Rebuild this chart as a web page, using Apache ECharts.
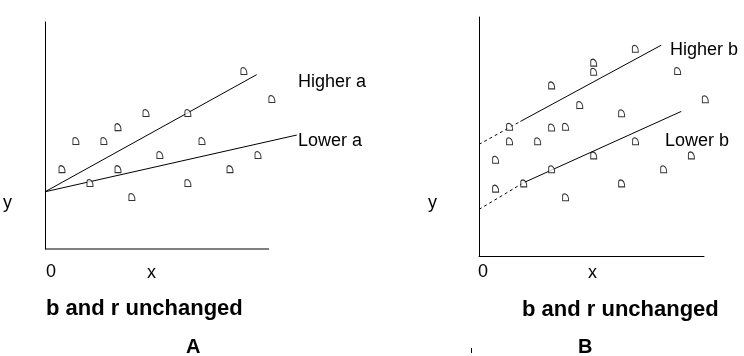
<!DOCTYPE html>
<html>
<head>
<meta charset="utf-8">
<script src="https://cdn.jsdelivr.net/npm/echarts@6/dist/echarts.min.js"></script>
<style>html,body{margin:0;padding:0;background:#fff;}#c{width:744px;height:356px;}</style>
</head>
<body>
<div id="c"></div>
<script>
// Panel A data (units 0-100 on each axis; axis drawn 0-100)
const aPointX = [88.8, 101.3, 63.8, 45.1, 32.6, 13.8, 26.3, 70.1, 51.3, 95.1, 7.6, 32.6, 82.6, 20.1, 63.8, 38.8];
const aPointY = [78.4, 66.1, 59.9, 59.9, 53.7, 47.6, 47.6, 47.6, 41.4, 41.4, 35.2, 35.2, 35.2, 29.1, 29.1, 22.9];
const aHigherX = [0, 94.5];
const aHigherY = [25.2, 76.8];
const aLowerX = [0, 112.4];
const aLowerY = [25.2, 50.2];
const aAxisX = [0, 100];
const aAxisY = [0, 0];

// Panel B data
const bPointX = [69.5, 51.0, 51.0, 88.3, 32.3, 100.6, 44.8, 63.4, 13.6, 32.3, 38.5, 13.6, 26.1, 69.6, 7.4, 51.0, 94.4, 32.3, 82.1, 7.4, 19.9, 63.4, 38.5];
const bPointY = [86.7, 80.9, 77.1, 77.4, 71.4, 65.6, 63.2, 59.7, 54.1, 53.8, 54.1, 48.0, 48.0, 48.0, 40.3, 42.1, 42.1, 36.3, 36.3, 28.2, 30.4, 30.4, 24.6];
const bHigherDashX = [0, 18.4];
const bHigherDashY = [46.7, 56.3];
const bHigherX = [18.4, 81.0];
const bHigherY = [56.3, 88.2];
const bLowerDashX = [0, 19.9];
const bLowerDashY = [19.5, 30.7];
const bLowerX = [19.9, 89.9];
const bLowerY = [30.7, 60.5];

const zip = (xs, ys) => xs.map((x, i) => [x, ys[i]]);
const FONT = '"Liberation Sans", Arial, sans-serif';
const markerPath = 'path://M0,10 L0,3 Q0,0 3,0 Q8,1 8,10 Z';

function axis(gi, max, showLine) {
  return {
    type: 'value', gridIndex: gi, min: 0, max: max,
    axisLine: { show: showLine, onZero: false, lineStyle: { color: '#000', width: 1 } },
    axisTick: { show: false }, axisLabel: { show: false }, splitLine: { show: false }
  };
}
function scatter(gi, xs, ys) {
  return {
    type: 'scatter', xAxisIndex: gi, yAxisIndex: gi, data: zip(xs, ys), clip: false,
    symbol: markerPath, symbolSize: [6, 7],
    itemStyle: { color: '#fff', borderColor: '#000', borderWidth: 1 },
    z: 3, silent: true
  };
}
function line(gi, xs, ys, dashed) {
  return {
    type: 'line', xAxisIndex: gi, yAxisIndex: gi, data: zip(xs, ys), clip: false,
    symbol: 'none', silent: true,
    lineStyle: { color: '#000', width: 1, type: dashed ? [3, 3] : 'solid' }
  };
}
function txt(x, y, s, size, bold) {
  return {
    type: 'text', left: x, top: y, silent: true,
    style: { text: s, fill: '#000', font: (bold ? 'bold ' : '') + size + 'px ' + FONT }
  };
}

const chart = echarts.init(document.getElementById('c'), null, { renderer: 'canvas' });
chart.setOption({
  backgroundColor: '#fff',
  animation: false,
  grid: [
    { left: 45, top: 22, width: 280, height: 227 },
    { left: 479, top: 17, width: 225, height: 239 }
  ],
  xAxis: [axis(0, 125, false), axis(1, 100, true)],
  yAxis: [axis(0, 100, true), axis(1, 100, true)],
  series: [
    line(0, aAxisX, aAxisY, false),
    line(0, aHigherX, aHigherY, false),
    line(0, aLowerX, aLowerY, false),
    scatter(0, aPointX, aPointY),
    line(1, bHigherDashX, bHigherDashY, true),
    line(1, bHigherX, bHigherY, false),
    line(1, bLowerDashX, bLowerDashY, true),
    line(1, bLowerX, bLowerY, false),
    scatter(1, bPointX, bPointY)
  ],
  graphic: [
    txt(298, 73, 'Higher a', 18),
    txt(298, 132, 'Lower a', 18),
    txt(3, 194, 'y', 18),
    txt(46, 263, '0', 18),
    txt(147, 264, 'x', 18),
    txt(46, 298, 'b and r unchanged', 22, true),
    txt(186, 337, 'A', 20, true),
    txt(670, 41, 'Higher b', 18),
    txt(665, 132, 'Lower b', 18),
    txt(428, 194, 'y', 18),
    txt(478, 263, '0', 18),
    txt(588, 264, 'x', 18),
    txt(522, 299, 'b and r unchanged', 22, true),
    txt(578, 337, 'B', 20, true),
    { type: 'rect', left: 471, top: 348, shape: { width: 1, height: 5 }, style: { fill: '#000' }, silent: true }
  ]
});
</script>
</body>
</html>
